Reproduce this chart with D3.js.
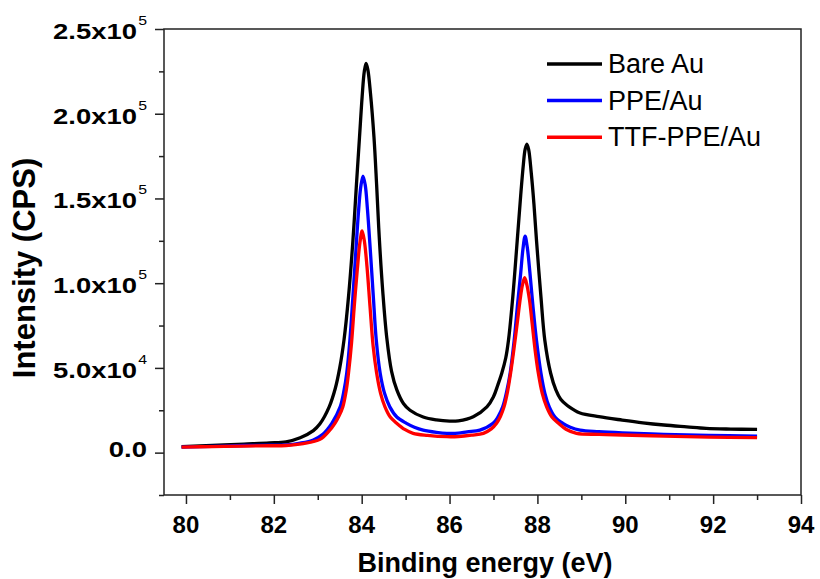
<!DOCTYPE html>
<html>
<head>
<meta charset="utf-8">
<script src="https://cdn.jsdelivr.net/npm/d3@7"></script>
<style>
  html, body { margin: 0; padding: 0; background: #fff; }
  svg { display: block; font-family: "Liberation Sans", Arial, sans-serif; }
</style>
</head>
<body>
<svg id="chart" width="820" height="579"></svg>
<script>
// Au 4f spectra
const bareE = [79.9, 80.6, 81.32, 81.9, 82.28, 82.6, 82.9, 83.05, 83.26, 83.40, 83.50, 83.60, 83.70, 83.80, 83.88, 83.95, 84.01, 84.06, 84.10, 84.14, 84.20, 84.28, 84.34, 84.40, 84.48, 84.57, 84.68, 84.80, 84.95, 85.10, 85.40, 85.70, 86.00, 86.20, 86.54, 86.85, 87.00, 87.10, 87.19, 87.28, 87.34, 87.44, 87.54, 87.62, 87.68, 87.72, 87.76, 87.80, 87.86, 87.92, 87.98, 88.08, 88.17, 88.30, 88.42, 88.53, 88.68, 88.82, 88.97, 89.40, 89.93, 90.40, 90.88, 91.40, 91.84, 92.40, 93.0];
const bareI = [3600, 4300, 5070, 5700, 6400, 8800, 13000, 17000, 27000, 38000, 50000, 67000, 92000, 125000, 158000, 186000, 210000, 225000, 229700, 226000, 212000, 186000, 158000, 127000, 95000, 68000, 48000, 37000, 29000, 25000, 21000, 19300, 18600, 18800, 21200, 27000, 33000, 40000, 47000, 56000, 66000, 92000, 125000, 152000, 170000, 179000, 182100, 179000, 165000, 147000, 125000, 92000, 66000, 47000, 37000, 31500, 27800, 25400, 23400, 21200, 19200, 17600, 16300, 15200, 14300, 13900, 13700];

const ppeE = [79.9, 80.6, 81.32, 81.9, 82.28, 82.6, 82.9, 83.10, 83.32, 83.51, 83.60, 83.66, 83.73, 83.80, 83.87, 83.93, 83.98, 84.03, 84.08, 84.13, 84.20, 84.27, 84.33, 84.42, 84.52, 84.64, 84.80, 85.02, 85.20, 85.40, 85.70, 85.94, 86.20, 86.40, 86.69, 86.99, 87.10, 87.21, 87.30, 87.38, 87.47, 87.55, 87.62, 87.67, 87.72, 87.77, 87.83, 87.90, 87.98, 88.08, 88.17, 88.27, 88.40, 88.58, 88.75, 88.97, 89.40, 89.93, 90.88, 91.90, 93.0];
const ppeI = [3300, 3700, 4200, 4350, 4500, 5600, 7500, 10500, 17300, 27000, 37000, 47000, 66000, 92000, 120000, 143000, 157000, 163200, 158000, 144000, 118000, 90000, 67000, 47000, 35000, 27000, 21000, 17300, 15000, 13300, 12000, 11400, 11500, 12300, 13300, 17300, 21000, 27000, 36000, 47000, 66000, 88000, 106000, 120000, 127800, 121000, 106000, 86000, 66000, 47000, 35000, 27000, 21000, 17300, 15000, 13300, 12400, 11700, 10800, 10200, 9800];

const ttfE = [79.9, 80.6, 81.32, 81.9, 82.28, 82.67, 83.05, 83.25, 83.39, 83.48, 83.57, 83.65, 83.70, 83.77, 83.83, 83.90, 83.96, 84.01, 84.06, 84.12, 84.19, 84.26, 84.34, 84.43, 84.53, 84.65, 84.80, 84.98, 85.17, 85.50, 85.94, 86.20, 86.50, 86.77, 86.95, 87.07, 87.16, 87.24, 87.32, 87.39, 87.47, 87.54, 87.61, 87.66, 87.71, 87.76, 87.82, 87.88, 87.95, 88.02, 88.11, 88.21, 88.33, 88.48, 88.65, 88.89, 89.40, 89.93, 90.88, 91.90, 93.0];
const ttfI = [3300, 3600, 3900, 4050, 4200, 5300, 7800, 12500, 17300, 21500, 27000, 37000, 47000, 65000, 86000, 108000, 124000, 130900, 125000, 110000, 86000, 63000, 47000, 35000, 27000, 21000, 17300, 13700, 11400, 10200, 9400, 9500, 10300, 11400, 14000, 17300, 21500, 27000, 36000, 47000, 62000, 76300, 91000, 99000, 103200, 99000, 90000, 76300, 60000, 47000, 35000, 27000, 21000, 17300, 13800, 11400, 10800, 10400, 9800, 9200, 8800];

const seriesNames = ["Bare Au", "PPE/Au", "TTF-PPE/Au"];
const seriesColors = ["#000000", "#0000ff", "#ff0000"];

const xMajor = [80, 82, 84, 86, 88, 90, 92, 94];
const xMinor = [81, 83, 85, 87, 89, 91, 93];
const yMajor = [0, 50000, 100000, 150000, 200000, 250000];
const yMinor = [-25000, 25000, 75000, 125000, 175000, 225000];

const svg = d3.select('#chart');

const x = d3.scaleLinear().domain([79.5, 94]).range([164, 801]);
const y = d3.scaleLinear().domain([-25000, 250000]).range([495, 29]);

const series = [
  { name: seriesNames[0], color: seriesColors[0], pts: bareE.map((e, i) => [e, bareI[i]]) },
  { name: seriesNames[1], color: seriesColors[1], pts: ppeE.map((e, i) => [e, ppeI[i]]) },
  { name: seriesNames[2], color: seriesColors[2], pts: ttfE.map((e, i) => [e, ttfI[i]]) }
];

const line = d3.line()
  .x(d => x(d[0]))
  .y(d => y(d[1]))
  .curve(d3.curveCatmullRom.alpha(0.5));

// spectra
svg.append('g')
  .selectAll('path')
  .data(series)
  .enter()
  .append('path')
  .attr('d', d => line(d.pts))
  .attr('fill', 'none')
  .attr('stroke', d => d.color)
  .attr('stroke-width', 3.3)
  .attr('stroke-linejoin', 'round');

// frame
svg.append('rect')
  .attr('x', x.range()[0])
  .attr('y', y.range()[1])
  .attr('width', x.range()[1] - x.range()[0])
  .attr('height', y.range()[0] - y.range()[1])
  .attr('fill', 'none')
  .attr('stroke', '#222')
  .attr('stroke-width', 1.5);

// ticks
function tickGroup(axis, transform) {
  const g = svg.append('g').attr('transform', transform).call(axis);
  g.select('.domain').remove();
  g.selectAll('line').attr('stroke', '#222').attr('stroke-width', 1.5);
  return g;
}
tickGroup(d3.axisBottom(x).tickValues(xMajor).tickSize(9).tickFormat(''), `translate(0,${y.range()[0]})`);
tickGroup(d3.axisBottom(x).tickValues(xMinor).tickSize(5).tickFormat(''), `translate(0,${y.range()[0]})`);
tickGroup(d3.axisLeft(y).tickValues(yMajor).tickSize(9).tickFormat(''), `translate(${x.range()[0]},0)`);
tickGroup(d3.axisLeft(y).tickValues(yMinor).tickSize(5).tickFormat(''), `translate(${x.range()[0]},0)`);

// x tick labels
svg.append('g')
  .selectAll('text')
  .data(xMajor)
  .enter()
  .append('text')
  .attr('x', d => x(d))
  .attr('y', 533)
  .attr('text-anchor', 'middle')
  .style('font-size', '24px')
  .style('font-weight', 'bold')
  .text(d => d);

// y tick labels like 2.5x10^5
const yLab = svg.append('g')
  .selectAll('g')
  .data(yMajor)
  .enter()
  .append('g')
  .attr('transform', d => `translate(147,${y(d) + (d === 0 ? 4 : 10)}) scale(1.22,1)`);

yLab.each(function(d) {
  const t = d3.select(this).append('text')
    .attr('text-anchor', 'end')
    .style('font-size', '22.5px')
    .style('font-weight', 'bold');
  if (d === 0) {
    t.text('0.0');
  } else {
    const ex = Math.floor(Math.log10(d));
    t.append('tspan').text((d / Math.pow(10, ex)).toFixed(1) + 'x10');
    t.append('tspan')
      .attr('dy', -14)
      .attr('dx', 1)
      .style('font-size', '13px')
      .style('font-weight', 'normal')
      .text(ex);
  }
});

// axis titles
svg.append('text')
  .attr('x', 485)
  .attr('y', 572)
  .attr('text-anchor', 'middle')
  .style('font-size', '27px')
  .style('font-weight', 'bold')
  .text('Binding energy (eV)');

svg.append('text')
  .attr('transform', 'translate(35,268) rotate(-90)')
  .attr('text-anchor', 'middle')
  .style('font-size', '31px')
  .style('font-weight', 'bold')
  .text('Intensity (CPS)');

// legend
const legend = svg.append('g')
  .selectAll('g')
  .data(series)
  .enter()
  .append('g')
  .attr('transform', (d, i) => `translate(547,${64 + i * 36.6})`);

legend.append('line')
  .attr('x1', 0)
  .attr('x2', 55)
  .attr('stroke', d => d.color)
  .attr('stroke-width', 3.5);

legend.append('text')
  .attr('x', 61)
  .attr('y', 9)
  .style('font-size', '27px')
  .text(d => d.name);
</script>
</body>
</html>
